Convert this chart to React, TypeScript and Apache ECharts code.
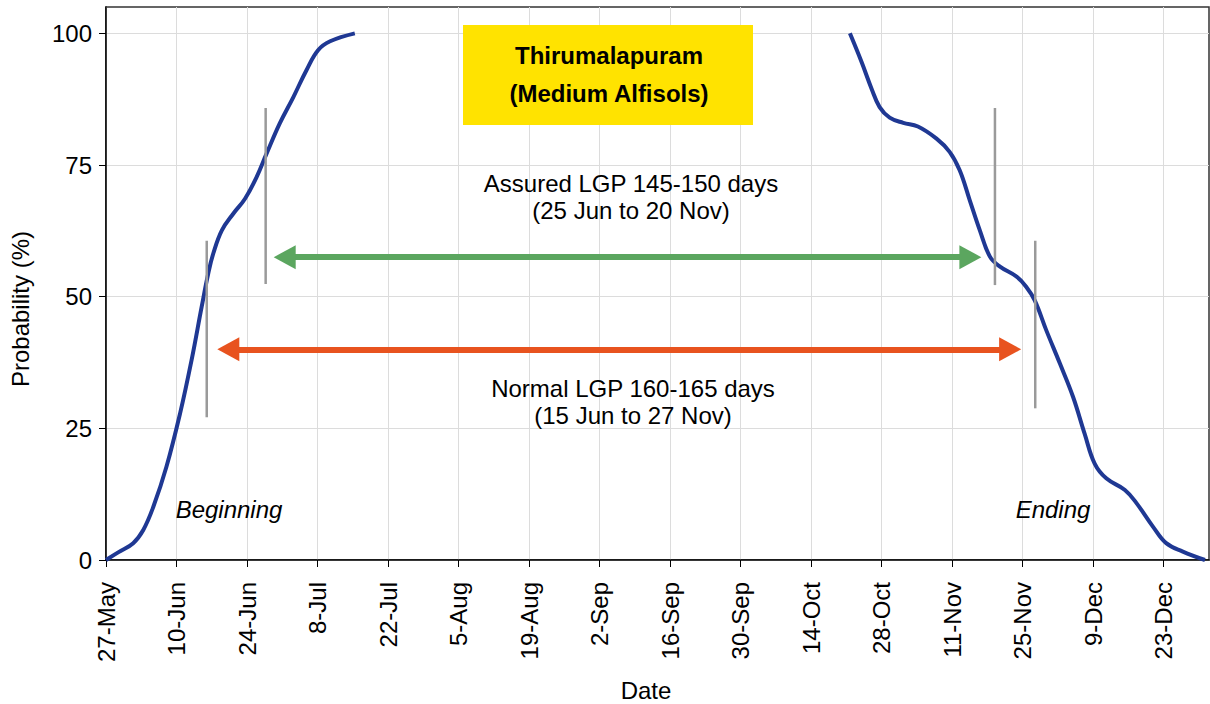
import React, { useEffect, useRef } from 'react';
import * as echarts from 'echarts';

// x values are days counted from 27 May
const tickDays = [0, 14, 28, 42, 56, 70, 84, 98, 112, 126, 140, 154, 168, 182, 196, 210];
const tickLabels = ['27-May', '10-Jun', '24-Jun', '8-Jul', '22-Jul', '5-Aug', '19-Aug', '2-Sep', '16-Sep', '30-Sep', '14-Oct', '28-Oct', '11-Nov', '25-Nov', '9-Dec', '23-Dec'];
const yTicks = [0, 25, 50, 75, 100];

const beginDays = [0, 2.5, 5.4, 7.4, 9.4, 12.0, 14.7, 17.0, 19.0, 20.3, 21.3, 23.0, 25.3, 27.6, 29.9, 31.9, 34.5, 37.2, 39.8, 42.1, 44.5, 49.4];
const beginProb = [0, 1.5, 3.2, 5.7, 10.1, 17.7, 27.8, 38.0, 48.1, 54.4, 58.2, 62.6, 65.8, 68.6, 72.7, 77.2, 82.9, 87.9, 93.0, 96.8, 98.5, 100];

const endDays = [147.7, 150.0, 152.0, 153.6, 155.6, 158.3, 161.2, 164.9, 167.5, 169.5, 171.5, 173.5, 175.5, 177.5, 180.8, 182.7, 184.4, 186.7, 189.4, 192.0, 194.3, 196.3, 198.6, 202.3, 204.6, 207.9, 210.5, 213.8, 218.2];
const endProb = [100, 94.6, 89.5, 86.0, 84.0, 83.0, 82.3, 80.0, 77.5, 74.0, 68.3, 62.6, 57.6, 55.7, 53.8, 51.9, 49.3, 43.6, 37.3, 31.0, 24.0, 18.3, 15.5, 13.3, 10.8, 6.3, 3.2, 1.6, 0];

// vertical gray marker lines
const markerDays = [20.0, 31.7, 176.5, 184.5];
const markerLow = [27.1, 52.4, 52.2, 28.8];
const markerHigh = [60.6, 85.8, 85.8, 60.6];

// double-headed arrows (tip to tip)
const arrowFrom = [33.3, 22.1];
const arrowTo = [173.8, 181.7];
const arrowLevel = [57.5, 40.0];
const arrowColors = ['#5BA65F', '#E8531F'];

const FONT = '"Liberation Sans", Arial, Helvetica, sans-serif';
const FS = 24;

const X_MAX = 219;
const GRID_LEFT = 106;
const GRID_RIGHT = 1;
const CHART_W = 1210;
const HEAD_LEN = 22; // arrow head length in px

export default function App() {
  const ref = useRef<HTMLDivElement>(null);
  useEffect(() => {
    if (!ref.current) return;
    const chart = echarts.init(ref.current, null, { renderer: 'svg' });
    const zip = (xs: number[], ys: number[]) => xs.map((x, i) => [x, ys[i]]);

    // markLine symbols are centred on the end points: pull the ends in by half a head
    const pxPerDay = (CHART_W - GRID_LEFT - GRID_RIGHT) / X_MAX;
    const headDays = HEAD_LEN / 2 / pxPerDay;

    const markerSeries = markerDays.map((d, i) => ({
      type: 'line',
      data: [[d, markerLow[i]], [d, markerHigh[i]]],
      showSymbol: false,
      silent: true,
      z: 4,
      lineStyle: { color: '#9a9a9a', width: 2.5 },
    }));

    const arrowData = arrowFrom.map((f, i) => [
      { coord: [f + headDays, arrowLevel[i]], lineStyle: { color: arrowColors[i], width: 6, type: 'solid' }, itemStyle: { color: arrowColors[i] } },
      { coord: [arrowTo[i] - headDays, arrowLevel[i]], itemStyle: { color: arrowColors[i] } },
    ]);

    const txt = (text: string, x: number, y: number, font: string, extra: any = {}) => ({
      type: 'text', x, y, z: 11, ...extra,
      style: { text, font, fill: '#000', textAlign: 'center', textVerticalAlign: 'middle' },
    });

    const option: any = {
      animation: false,
      textStyle: { fontFamily: FONT },
      grid: { left: GRID_LEFT, right: GRID_RIGHT, top: 7, bottom: 144, show: true, borderColor: '#333', borderWidth: 1.5, backgroundColor: 'transparent' },
      xAxis: {
        type: 'value',
        min: 0,
        max: X_MAX,
        interval: 14,
        axisLine: { show: true, lineStyle: { color: '#000', width: 1.5 } },
        axisTick: { show: true, length: 7, lineStyle: { color: '#000' }, customValues: tickDays },
        axisLabel: {
          rotate: 90,
          margin: 22,
          fontSize: FS,
          color: '#000',
          fontFamily: FONT,
          customValues: tickDays,
          formatter: (v: number) => {
            const i = tickDays.indexOf(Math.round(v));
            return i >= 0 ? tickLabels[i] : '';
          },
        },
        splitLine: { show: true, lineStyle: { color: '#dcdcdc', width: 1 } },
      },
      yAxis: {
        type: 'value',
        min: 0,
        max: 105,
        interval: 25,
        axisLine: { show: true, lineStyle: { color: '#000', width: 1.5 } },
        axisTick: { show: true, length: 7, lineStyle: { color: '#000' }, customValues: yTicks },
        axisLabel: {
          margin: 14,
          fontSize: FS,
          color: '#000',
          fontFamily: FONT,
          customValues: yTicks,
          formatter: (v: number) => (yTicks.indexOf(v) >= 0 ? String(v) : ''),
        },
        splitLine: { show: true, lineStyle: { color: '#dcdcdc', width: 1 } },
      },
      series: [
        {
          type: 'line',
          data: zip(beginDays, beginProb),
          smooth: 0.4,
          showSymbol: false,
          z: 3,
          lineStyle: { color: '#1F3893', width: 4 },
          markLine: {
            silent: true,
            symbol: ['triangle', 'triangle'],
            symbolSize: [24, HEAD_LEN],
            label: { show: false },
            z: 5,
            data: arrowData,
          },
        },
        {
          type: 'line',
          data: zip(endDays, endProb),
          smooth: 0.4,
          showSymbol: false,
          z: 3,
          lineStyle: { color: '#1F3893', width: 4 },
        },
        ...markerSeries,
      ],
      graphic: [
        { type: 'rect', shape: { x: 463, y: 25, width: 290, height: 100 }, style: { fill: '#FFE300' }, z: 10 },
        txt('Thirumalapuram', 609, 55, `bold ${FS}px ${FONT}`),
        txt('(Medium Alfisols)', 609, 93, `bold ${FS}px ${FONT}`),
        txt('Assured LGP 145-150 days', 631, 183, `${FS}px ${FONT}`),
        txt('(25 Jun to 20 Nov)', 631, 210, `${FS}px ${FONT}`),
        txt('Normal LGP 160-165 days', 633, 388, `${FS}px ${FONT}`),
        txt('(15 Jun to 27 Nov)', 633, 415, `${FS}px ${FONT}`),
        txt('Beginning', 229, 509, `italic ${FS}px ${FONT}`),
        txt('Ending', 1053, 509, `italic ${FS}px ${FONT}`),
        txt('Date', 646, 690, `${FS}px ${FONT}`),
        txt('Probability (%)', 20, 309, `${FS}px ${FONT}`, { rotation: Math.PI / 2 }),
      ],
    };
    chart.setOption(option);
    return () => chart.dispose();
  }, []);
  return <div ref={ref} style={{ position: 'absolute', left: 0, top: 0, width: CHART_W, height: 704 }} />;
}
